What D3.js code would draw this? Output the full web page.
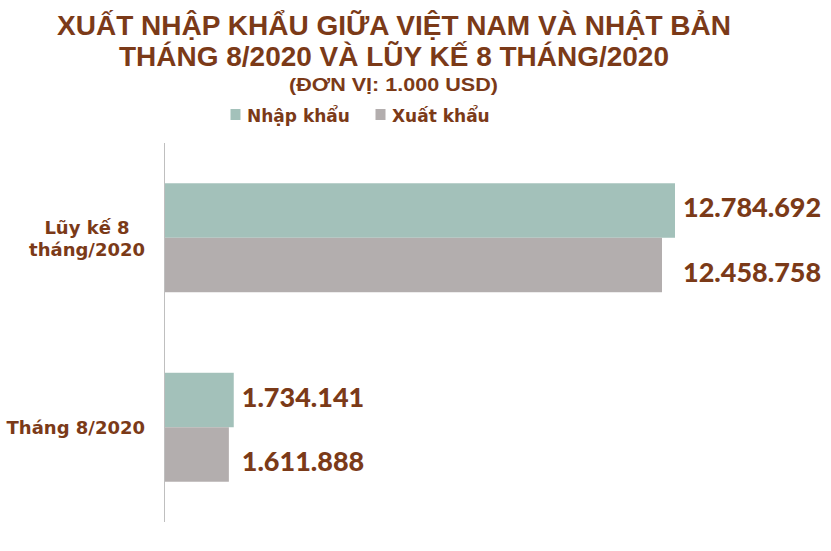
<!DOCTYPE html>
<html>
<head>
<meta charset="utf-8">
<script src="https://cdn.jsdelivr.net/npm/d3@7"></script>
<style>
  body { margin: 0; background: #fff; }
  svg { display: block; }
</style>
</head>
<body>
<script>
// data
const a_categories = [["Lũy kế 8", "tháng/2020"], ["Tháng 8/2020"]];
const a_series = ["Nhập khẩu", "Xuất khẩu"];
const a_import = [12784692, 1734141];
const a_export = [12458758, 1611888];
const a_title = ["XUẤT NHẬP KHẨU GIỮA VIỆT NAM VÀ NHẬT BẢN", "THÁNG 8/2020 VÀ LŨY KẾ 8 THÁNG/2020"];
const v_subtitle = "(ĐƠN VỊ: 1.000 USD)";

const a_colors = ["#a3c1ba", "#b3aeae"];
const v_brown = "#7b3a18";
const v_title_font = "'Liberation Sans Narrow', 'Arial Narrow', 'Liberation Sans', Arial, sans-serif";
const v_label_font = "Lato, 'Open Sans', sans-serif";
const v_cat_font = "'DejaVu Sans', sans-serif";

const v_width = 831, v_height = 551;
const d_plot = {left: 164.5, top: 143, bottom: 522};

const svg = d3.select("body").append("svg")
    .attr("width", v_width)
    .attr("height", v_height);

svg.append("rect").attr("width", v_width).attr("height", v_height).attr("fill", "#fff");

// scales
var x = d3.scaleLinear().domain([0, d3.max(a_import)]).range([d_plot.left, 675]);
var y = d3.scaleBand().domain(d3.range(a_categories.length))
    .range([d_plot.top, d_plot.bottom])
    .paddingInner(0.425).paddingOuter(0.2125);
var y_inner = d3.scaleBand().domain(d3.range(a_series.length)).range([0, y.bandwidth()]);

// title
svg.append("text")
    .attr("x", 394).attr("y", 35)
    .attr("text-anchor", "middle")
    .attr("font-family", v_title_font).attr("font-weight", "bold").attr("font-size", 27)
    .attr("fill", v_brown)
    .attr("textLength", 674).attr("lengthAdjust", "spacingAndGlyphs")
    .text(a_title[0]);
svg.append("text")
    .attr("x", 394).attr("y", 65.5)
    .attr("text-anchor", "middle")
    .attr("font-family", v_title_font).attr("font-weight", "bold").attr("font-size", 27)
    .attr("fill", v_brown)
    .attr("textLength", 550).attr("lengthAdjust", "spacingAndGlyphs")
    .text(a_title[1]);
svg.append("text")
    .attr("x", 393.5).attr("y", 90.5)
    .attr("text-anchor", "middle")
    .attr("font-family", v_title_font).attr("font-weight", "bold").attr("font-size", 18.5)
    .attr("fill", v_brown)
    .attr("textLength", 209).attr("lengthAdjust", "spacingAndGlyphs")
    .text(v_subtitle);

// legend
const a_legend_x = [230.5, 375.5];
const g_legend = svg.append("g").attr("id", "legend");
a_series.forEach(function(s, i) {
    g_legend.append("rect")
        .attr("x", a_legend_x[i]).attr("y", 109)
        .attr("width", 10).attr("height", 11)
        .attr("fill", a_colors[i]);
    g_legend.append("text")
        .attr("x", a_legend_x[i] + 16.5).attr("y", 122)
        .attr("font-family", v_cat_font).attr("font-weight", "bold").attr("font-size", 17)
        .attr("fill", v_brown)
        .text(s);
});

// bars
const g_bars = svg.append("g").attr("id", "bars");
const a_values = [a_import, a_export];
const a_label_dy = [-3, 7];

a_categories.forEach(function(cat, ci) {
    var v_group_end = x(Math.max(a_import[ci], a_export[ci]));
    a_series.forEach(function(s, si) {
        var v = a_values[si][ci];
        var y0 = y(ci) + y_inner(si);
        g_bars.append("rect")
            .attr("x", x(0))
            .attr("y", y0)
            .attr("width", x(v) - x(0))
            .attr("height", y_inner.bandwidth())
            .attr("fill", a_colors[si]);
        g_bars.append("text")
            .attr("x", v_group_end + 8)
            .attr("y", y0 + y_inner.bandwidth() / 2 + a_label_dy[si])
            .attr("dy", "0.36em")
            .attr("font-family", v_label_font).attr("font-weight", 900).attr("font-size", 27)
            .attr("fill", v_brown)
            .text(d3.format(",")(v).replace(/,/g, "."));
    });

    // category labels, centered as a block, right edge at 145
    var v_mid = y(ci) + y.bandwidth() / 2;
    var v_line_h = 22;
    var t = svg.append("text")
        .attr("font-family", v_cat_font).attr("font-weight", "bold").attr("font-size", 18)
        .attr("fill", v_brown)
        .attr("text-anchor", "middle");
    cat.forEach(function(line, li) {
        t.append("tspan").text(line);
    });
    var v_max_w = 0;
    t.selectAll("tspan").each(function() {
        v_max_w = Math.max(v_max_w, this.getComputedTextLength());
    });
    t.selectAll("tspan")
        .attr("x", 145 - v_max_w / 2)
        .attr("y", function(d, li) {
            return v_mid + 7 + (li - (cat.length - 1) / 2) * v_line_h;
        });
});

// axis line
svg.append("line")
    .attr("x1", d_plot.left).attr("x2", d_plot.left)
    .attr("y1", d_plot.top).attr("y2", d_plot.bottom)
    .attr("stroke", "#bfbfbf").attr("stroke-width", 1);
</script>
</body>
</html>
